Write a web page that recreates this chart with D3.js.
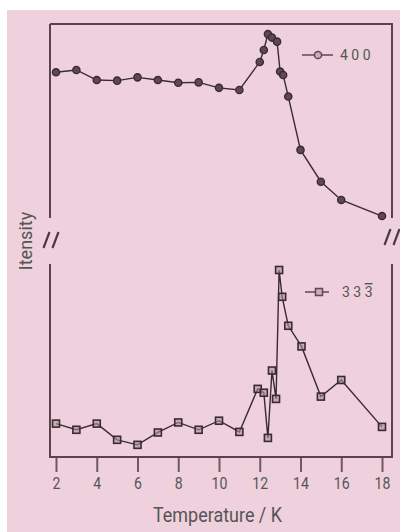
<!DOCTYPE html>
<html>
<head>
<meta charset="utf-8">
<script src="https://cdn.jsdelivr.net/npm/d3@7"></script>
<style>
  body { margin: 0; background: #fff; }
  text { font-family: Roboto, "Liberation Sans", sans-serif; fill: #555; }
</style>
</head>
<body>
<div id="chart-area"></div>
<script>
// temperatures (K) and intensities (arb. units, 0-100 per panel)
const temps400 = [2, 3, 4, 5, 6, 7, 8, 9, 10, 11, 12, 12.2, 12.4, 12.6, 12.85, 13.0, 13.15, 13.4, 14, 15, 16, 18];
const int400 = [75.1, 76.3, 71.1, 70.8, 72.5, 71.1, 69.7, 69.9, 67.1, 66.0, 80.4, 86.6, 94.8, 93.0, 90.9, 75.5, 73.7, 62.6, 35.1, 18.7, 9.3, 1.0];

const temps333 = [2, 3, 4, 5, 6, 7, 8, 9, 10, 11, 11.9, 12.2, 12.4, 12.6, 12.8, 12.95, 13.1, 13.4, 14.05, 15, 16, 18];
const int333 = [17.3, 14.1, 17.3, 8.9, 6.3, 12.7, 17.9, 14.1, 18.8, 13.0, 35.3, 33.3, 9.9, 44.8, 30.1, 96.9, 83.0, 68.0, 57.3, 31.3, 39.9, 15.6];

const xTicks = [2, 4, 6, 8, 10, 12, 14, 16, 18];

const left = 50, right = 392;
const top1 = 24, bot1 = 218;
const top2 = 264, bot2 = 457;
const ink = "#3b2a31";
const axisInk = "#5a434b";

const svg = d3.select("#chart-area").append("svg")
	.attr("width", 400)
	.attr("height", 532);

svg.append("rect")
	.attr("x", 7).attr("y", 10)
	.attr("width", 393).attr("height", 522)
	.attr("fill", "#eed1dc");

const x = d3.scaleLinear().domain([2, 18]).range([56, 382]);
const yTop = d3.scaleLinear().domain([0, 100]).range([bot1, top1]);
const yBot = d3.scaleLinear().domain([0, 100]).range([bot2, top2]);

// frame pieces
function vline(xp, y0, y1) {
	svg.append("line")
		.attr("x1", xp).attr("x2", xp)
		.attr("y1", y0).attr("y2", y1)
		.attr("stroke", axisInk).attr("stroke-width", 2);
}
vline(left, top1, bot1);
vline(right, top1, bot1);
vline(left, top2, bot2 + 1);
vline(right, top2, bot2 + 1);
svg.append("line")
	.attr("x1", left).attr("x2", right + 1)
	.attr("y1", top1).attr("y2", top1)
	.attr("stroke", axisInk).attr("stroke-width", 2);

// x axis
const xAxis = svg.append("g")
	.attr("transform", `translate(0,${bot2})`)
	.call(d3.axisBottom(x).tickValues(xTicks).tickSize(15).tickPadding(6));
xAxis.select(".domain").remove();
xAxis.selectAll(".tick line")
	.attr("stroke", "#6e5a62")
	.attr("stroke-width", 2);
xAxis.selectAll("text")
	.style("font-size", "16px")
	.attr("fill", "#555")
	.attr("transform", "scale(0.88,1)");

svg.append("line")
	.attr("x1", left - 1).attr("x2", right + 1)
	.attr("y1", bot2).attr("y2", bot2)
	.attr("stroke", axisInk).attr("stroke-width", 2);

// axis breaks
function brk(cx, cy) {
	[-4.5, 4.5].forEach(dx => {
		svg.append("line")
			.attr("x1", cx + dx + 3).attr("y1", cy - 8)
			.attr("x2", cx + dx - 3).attr("y2", cy + 8)
			.attr("stroke", "#4a3840").attr("stroke-width", 2.2);
	});
}
brk(51, 240);
brk(392, 237);

// series
const line400 = d3.line().x(d => x(d[0])).y(d => yTop(d[1]));
const pts400 = temps400.map((t, i) => [t, int400[i]]);
svg.append("path")
	.attr("d", line400(pts400))
	.attr("fill", "none")
	.attr("stroke", ink)
	.attr("stroke-width", 1.4);
svg.selectAll(".c400").data(pts400).enter()
	.append("circle")
	.attr("class", "c400")
	.attr("cx", d => x(d[0]))
	.attr("cy", d => yTop(d[1]))
	.attr("r", 3.6)
	.attr("fill", "#5e4953")
	.attr("stroke", ink)
	.attr("stroke-width", 1.4);

const line333 = d3.line().x(d => x(d[0])).y(d => yBot(d[1]));
const pts333 = temps333.map((t, i) => [t, int333[i]]);
svg.append("path")
	.attr("d", line333(pts333))
	.attr("fill", "none")
	.attr("stroke", ink)
	.attr("stroke-width", 1.4);
svg.selectAll(".s333").data(pts333).enter()
	.append("rect")
	.attr("class", "s333")
	.attr("x", d => x(d[0]) - 3.5)
	.attr("y", d => yBot(d[1]) - 3.5)
	.attr("width", 7)
	.attr("height", 7)
	.attr("fill", "#a8909a")
	.attr("fill-opacity", 0.6)
	.attr("stroke", ink)
	.attr("stroke-width", 1.6);

// legends
svg.append("line")
	.attr("x1", 302).attr("x2", 333).attr("y1", 55).attr("y2", 55)
	.attr("stroke", "#5e4953").attr("stroke-width", 1.5);
svg.append("circle")
	.attr("cx", 318).attr("cy", 55).attr("r", 3.6)
	.attr("fill", "#c9adb8").attr("stroke", "#5e4953").attr("stroke-width", 1.5);
svg.append("text")
	.attr("x", 340).attr("y", 60)
	.style("font-size", "14px")
	.text("4 0 0");

svg.append("line")
	.attr("x1", 305).attr("x2", 329).attr("y1", 292).attr("y2", 292)
	.attr("stroke", "#5e4953").attr("stroke-width", 1.5);
svg.append("rect")
	.attr("x", 315.5).attr("y", 288.5).attr("width", 7).attr("height", 7)
	.attr("fill", "#c9adb8").attr("stroke", "#5e4953").attr("stroke-width", 1.5);
const lg = svg.append("text")
	.attr("x", 342).attr("y", 297)
	.style("font-size", "14px");
lg.append("tspan").text("3 3 ");
lg.append("tspan").style("text-decoration", "overline").text("3");

// axis titles
svg.append("text")
	.attr("x", 153).attr("y", 522)
	.attr("textLength", 129)
	.attr("lengthAdjust", "spacingAndGlyphs")
	.style("font-size", "20px")
	.text("Temperature / K");

svg.append("text")
	.attr("transform", "translate(32,241) rotate(-90)")
	.attr("text-anchor", "middle")
	.style("font-size", "18px")
	.text("Itensity");
</script>
</body>
</html>
